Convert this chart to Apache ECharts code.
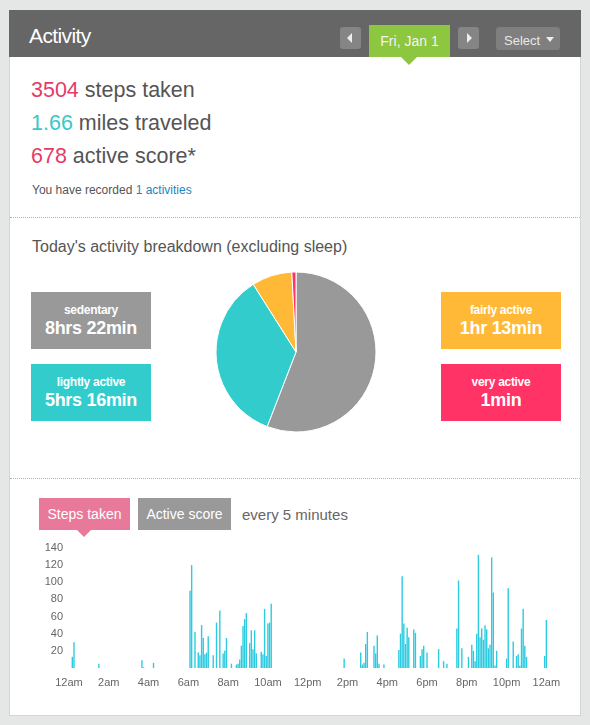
<!DOCTYPE html>
<html>
<head>
<meta charset="utf-8">
<title>Activity</title>
<script src="https://cdn.jsdelivr.net/npm/echarts@6/dist/echarts.min.js"></script>
<style>
    html, body { margin: 0; padding: 0; }
    body {
        width: 590px; height: 725px; position: relative; overflow: hidden;
        background: #e5e7e7; font-family: "Liberation Sans", Arial, sans-serif;
    }
    .abs { position: absolute; line-height: 1; white-space: nowrap; }
    .card { position: absolute; left: 9px; top: 10px; width: 570px; height: 704px; background: #fff; border: 1px solid #d4d6d6; box-sizing: content-box; }
    .head { position: absolute; left: 9px; top: 10px; width: 572px; height: 47px; background: #666; }
    .nav-btn { position: absolute; top: 27px; width: 21px; height: 22px; background: #858585; border-radius: 3px; }
    .tri-l { position: absolute; left: 7px; top: 6px; border-top: 5px solid transparent; border-bottom: 5px solid transparent; border-right: 5px solid #eee; }
    .tri-r { position: absolute; left: 9px; top: 6px; border-top: 5px solid transparent; border-bottom: 5px solid transparent; border-left: 5px solid #eee; }
    .date-tab { position: absolute; left: 369px; top: 25px; width: 81px; height: 32px; background: #8dc63f; }
    .date-tip { position: absolute; left: 401px; top: 57px; border-left: 8px solid transparent; border-right: 8px solid transparent; border-top: 8px solid #8dc63f; }
    .select-btn { position: absolute; left: 496px; top: 27px; width: 64px; height: 23px; background: #7f7f7f; border-radius: 3px; }
    .sel-tri { position: absolute; left: 50px; top: 10px; border-left: 4px solid transparent; border-right: 4px solid transparent; border-top: 5px solid #eee; }
    .stat { font-size: 21.5px; color: #555; left: 31px; }
    .pink { color: #e63a68; }
    .teal { color: #3cc6c8; }
    .rule { position: absolute; left: 10px; width: 570px; height: 0; border-top: 1px dotted #b4b4b4; }
    .box { position: absolute; width: 120px; height: 57px; color: #fff; font-weight: bold; text-align: center; }
    .box .lbl { position: absolute; left: 0; width: 120px; top: 11.8px; font-size: 12px; line-height: 1; letter-spacing: -0.3px; }
    .box .val { position: absolute; left: 0; width: 120px; top: 26.8px; font-size: 18px; line-height: 1; letter-spacing: -0.3px; }
    .tab { position: absolute; top: 498px; height: 32px; color: #fff; font-size: 14px; line-height: 32px; text-align: center; }
</style>
</head>
<body>
<div class="card"></div>
<div class="head"></div>
<div class="abs" style="left:29px;top:25.2px;font-size:21px;color:#fff;letter-spacing:-0.6px;">Activity</div>
<div class="nav-btn" style="left:340px;"><div class="tri-l"></div></div>
<div class="date-tab"></div>
<div class="date-tip"></div>
<div class="abs" style="left:369px;width:81px;text-align:center;top:34.1px;font-size:14px;color:#f4f4f4;">Fri, Jan 1</div>
<div class="nav-btn" style="left:458px;"><div class="tri-r"></div></div>
<div class="select-btn"><div class="sel-tri"></div></div>
<div class="abs" style="left:504px;top:34px;font-size:13px;color:#e8e8e8;">Select</div>

<div class="abs stat" style="top:80.3px;"><span class="pink">3504</span> steps taken</div>
<div class="abs stat" style="top:113.3px;"><span class="teal">1.66</span> miles traveled</div>
<div class="abs stat" style="top:145.8px;"><span class="pink">678</span> active score*</div>
<div class="abs" style="left:32px;top:183.8px;font-size:12px;color:#555;">You have recorded <span style="color:#1a85c2;">1 activities</span></div>

<div class="rule" style="top:217px;"></div>
<div class="abs" style="left:32px;top:238.5px;font-size:16px;color:#555;">Today's activity breakdown (excluding sleep)</div>
<div id="boxes"></div>
<div id="pie" style="position:absolute;left:196px;top:252px;width:200px;height:200px;"></div>

<div class="rule" style="top:478px;"></div>
<div class="tab" style="left:39px;width:91px;background:#e8799b;">Steps taken</div>
<div style="position:absolute;left:77px;top:530px;border-left:7px solid transparent;border-right:7px solid transparent;border-top:7px solid #e8799b;"></div>
<div class="tab" style="left:138px;width:93px;background:#999;">Active score</div>
<div class="abs" style="left:242px;top:506.8px;font-size:15px;color:#666;">every 5 minutes</div>
<div id="bars" style="position:absolute;left:0;top:530px;width:590px;height:170px;"></div>

<script>
// activity breakdown (minutes, excluding sleep)
const levelNames = ['sedentary', 'lightly active', 'fairly active', 'very active'];
const levelMinutes = [502, 316, 73, 1];
const levelLabels = ['8hrs 22min', '5hrs 16min', '1hr 13min', '1min'];
const levelColors = ['#999999', '#33cccc', '#ffb937', '#ff3366'];

// steps per 5-minute bucket (bucket 0 = 12am)
const bucketIdx = [
    2, 3, 18, 44, 45, 51,
    73, 74, 76, 78, 79, 80, 81, 82, 83, 84, 87, 89, 91, 93, 94, 95, 98,
    101, 102, 103, 104, 105, 106, 107, 109, 110, 111, 112, 113, 116, 117, 118, 119, 120, 121, 122,
    166, 176, 177, 178, 179, 180, 184, 185, 186, 187, 190,
    199, 200, 201, 202, 203, 204, 205, 208, 209, 212, 213, 214, 216, 223,
    226, 228, 234, 235, 237, 241, 243, 244, 245, 246, 247, 248, 249, 250, 251, 252, 253, 254,
    255, 256, 257, 258, 264, 265, 268, 270, 271, 272, 273, 274, 275, 276, 287, 288
];
const stepCounts = [
    13, 30, 5, 9, 1, 6,
    90, 120, 42, 18, 15, 50, 35, 16, 18, 37, 15, 53, 67, 17, 20, 35, 5,
    4, 5, 10, 26, 49, 57, 64, 29, 44, 22, 44, 17, 19, 16, 69, 14, 52, 53, 75,
    11, 18, 4, 6, 28, 42, 26, 17, 38, 5, 4,
    21, 40, 107, 52, 28, 47, 36, 45, 41, 14, 22, 26, 18, 22,
    8, 5, 46, 102, 23, 13, 27, 20, 8, 40, 132, 36, 46, 33, 50, 45, 23, 27,
    129, 88, 3, 20, 11, 93, 31, 14, 16, 3, 46, 69, 26, 13, 14, 56
];
const hourLabels = ['12am', '2am', '4am', '6am', '8am', '10am', '12pm', '2pm', '4pm', '6pm', '8pm', '10pm', '12am'];
const stepTicks = [20, 40, 60, 80, 100, 120, 140];

const FONT = '"Liberation Sans", Arial, sans-serif';

function renderBoxes(container) {
    const spots = [[31, 292], [31, 364], [441, 292], [441, 364]];
    container.innerHTML = levelNames.map((name, i) => `
        <div class="box" style="left:${spots[i][0]}px;top:${spots[i][1]}px;background:${levelColors[i]};">
            <div class="lbl">${name}</div>
            <div class="val">${levelLabels[i]}</div>
        </div>
    `).join('');
}

function renderPie(el) {
    const chart = echarts.init(el);
    chart.setOption({
        animation: false,
        series: [{
            type: 'pie',
            radius: 80,
            center: ['50%', '50%'],
            startAngle: 90,
            clockwise: true,
            minAngle: 3,
            silent: true,
            label: { show: false },
            labelLine: { show: false },
            itemStyle: { borderColor: '#fff', borderWidth: 1 },
            data: levelNames.map((name, i) => ({
                name,
                value: levelMinutes[i],
                itemStyle: { color: levelColors[i] }
            }))
        }]
    });
    return chart;
}

function renderSteps(el) {
    const chart = echarts.init(el);
    chart.setOption({
        animation: false,
        grid: { left: 69, right: 37, top: 18, height: 120 },
        xAxis: {
            type: 'value',
            min: 0,
            max: 292,
            interval: 24,
            axisLine: { show: false },
            axisTick: { show: false },
            splitLine: { show: false },
            axisLabel: {
                margin: 9,
                fontSize: 11,
                fontFamily: FONT,
                color: '#666',
                formatter: v => (v % 24 === 0 ? hourLabels[v / 24] || '' : '')
            }
        },
        yAxis: {
            type: 'value',
            min: 0,
            max: stepTicks[stepTicks.length - 1],
            interval: stepTicks[0],
            axisLine: { show: false },
            axisTick: { show: false },
            splitLine: { show: false },
            axisLabel: {
                margin: 6,
                fontSize: 11,
                fontFamily: FONT,
                color: '#666',
                formatter: v => (stepTicks.includes(v) ? String(v) : '')
            }
        },
        series: [{
            type: 'bar',
            barWidth: 1.4,
            silent: true,
            itemStyle: { color: '#2ccbe0' },
            data: bucketIdx.map((b, i) => [b, stepCounts[i]])
        }]
    });
    return chart;
}

renderBoxes(document.getElementById('boxes'));
renderPie(document.getElementById('pie'));
renderSteps(document.getElementById('bars'));
</script>
</body>
</html>
